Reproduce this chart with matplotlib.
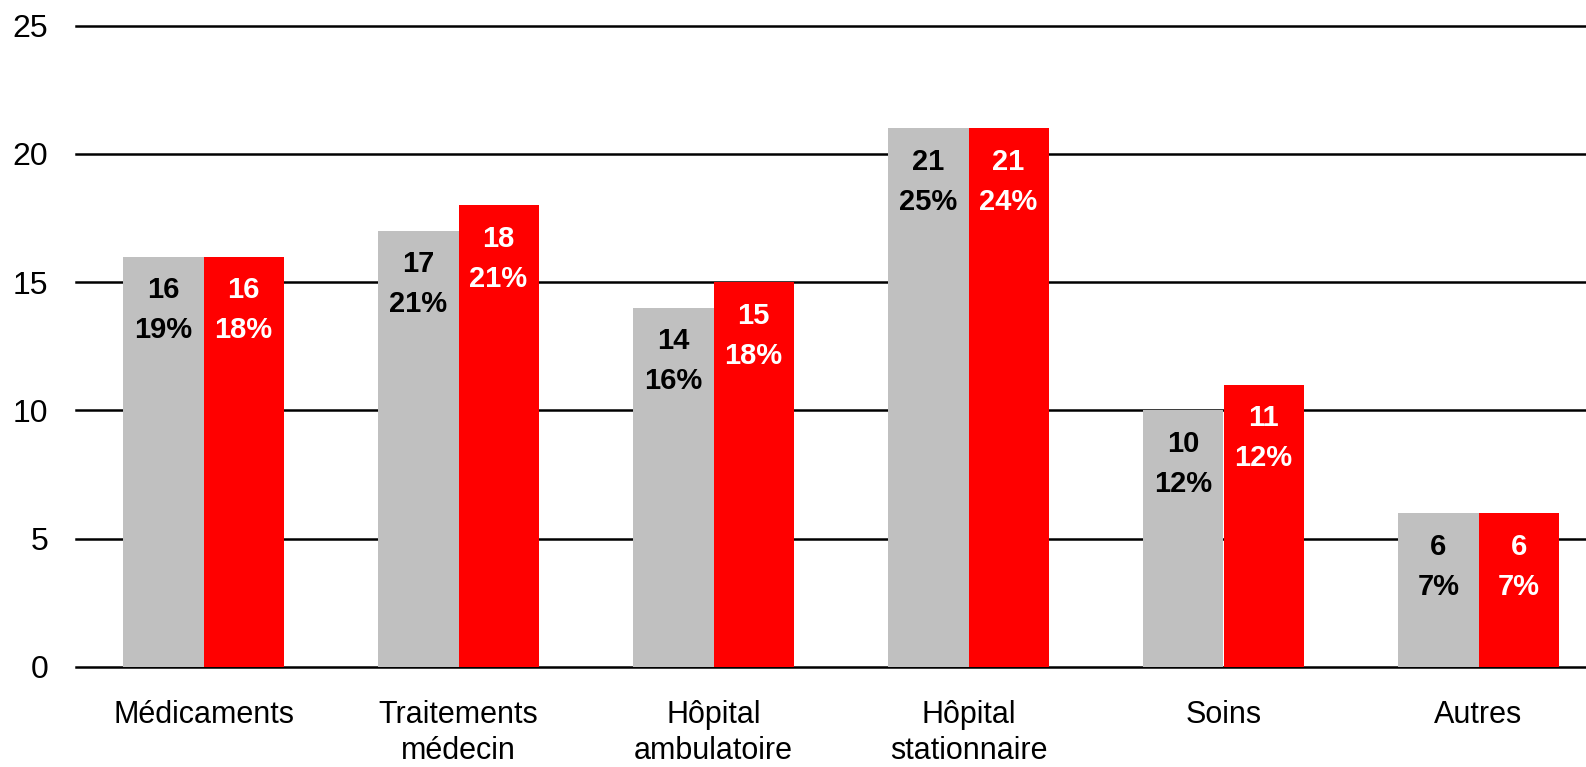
import matplotlib
matplotlib.use('Agg')
import numpy as np
import matplotlib.pyplot as plt

plt.rcParams['font.family'] = ['Liberation Sans', 'DejaVu Sans']

categories = ['Médicaments', 'Traitements\nmédecin', 'Hôpital\nambulatoire',
              'Hôpital\nstationnaire', 'Soins', 'Autres']
grey_vals = [16, 17, 14, 21, 10, 6]
grey_pct = [19, 21, 16, 25, 12, 7]
red_vals = [16, 18, 15, 21, 11, 6]
red_pct = [18, 21, 18, 24, 12, 7]

W, H = 1586, 767
fig = plt.figure(figsize=(W / 100, H / 100), dpi=100)
ax = fig.add_axes([76 / W, 1 - 667 / H, (W - 76) / W, (667 - 25.7) / H])

x = np.arange(len(categories))
bw = 0.314
b1 = ax.bar(x - bw / 2, grey_vals, bw, color='#c0c0c0', zorder=3)
b2 = ax.bar(x + bw / 2, red_vals, bw, color='#ff0000', zorder=3)

# value + share labels just inside the top of each bar
for bars, vals, pcts, col in [(b1, grey_vals, grey_pct, 'black'),
                              (b2, red_vals, red_pct, 'white')]:
    for b, v, p in zip(bars, vals, pcts):
        cx = b.get_x() + b.get_width() / 2
        ax.annotate(f'{v}\n{p}%', (cx, v), xytext=(0, -14), textcoords='offset points',
                    ha='center', va='top', color=col, fontsize=21, fontweight='bold',
                    linespacing=1.55, zorder=4)

ax.set_ylim(0, 25)
ax.set_xlim(-0.5, (W - 76) / 255 - 0.5)
ax.set_yticks(range(0, 26, 5))
ax.yaxis.grid(True, color='black', linewidth=1.8, zorder=0)
for gl in ax.get_ygridlines():
    gl.set_clip_on(False)
ax.set_axisbelow(True)
ax.set_xticks(x)
ax.set_xticklabels(categories, fontsize=22, linespacing=1.25)
ax.tick_params(axis='x', length=0, pad=24)
ax.tick_params(axis='y', length=0, pad=20, labelsize=23)
for s in ax.spines.values():
    s.set_visible(False)

fig.savefig('out.png', dpi=100)
